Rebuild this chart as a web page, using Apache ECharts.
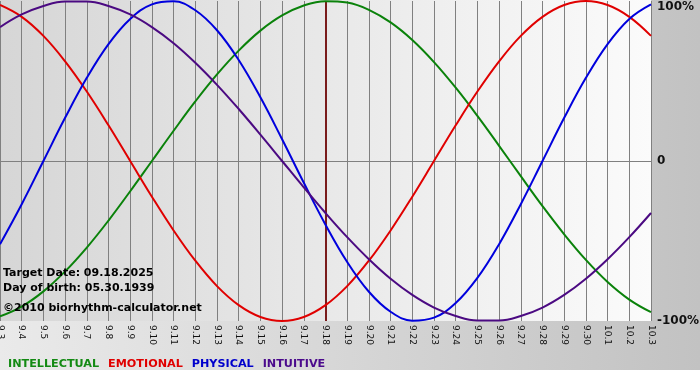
<!DOCTYPE html>
<html>
<head>
<meta charset="utf-8">
<script src="https://cdn.jsdelivr.net/npm/echarts@6/dist/echarts.min.js"></script>
<style>html,body{margin:0;padding:0;background:#fff}#c{width:700px;height:380px}</style>
</head>
<body>
<div id="c"></div>
<script>
const days = ['9.3','9.4','9.5','9.6','9.7','9.8','9.9','9.10','9.11','9.12','9.13','9.14','9.15','9.16','9.17','9.18','9.19','9.20','9.21','9.22','9.23','9.24','9.25','9.26','9.27','9.28','9.29','9.30','10.1','10.2','10.3'];
const intellectual = [-0.971,-0.910,-0.815,-0.690,-0.541,-0.372,-0.189,0,0.189,0.372,0.541,0.690,0.815,0.910,0.972,0.999,0.990,0.945,0.866,0.756,0.618,0.458,0.282,0.095,-0.095,-0.282,-0.458,-0.618,-0.756,-0.866,-0.945];
const emotional = [0.975,0.901,0.782,0.623,0.434,0.223,0,-0.223,-0.434,-0.623,-0.782,-0.901,-0.975,-1.000,-0.975,-0.901,-0.782,-0.623,-0.434,-0.223,0,0.223,0.434,0.623,0.782,0.901,0.975,1.000,0.975,0.901,0.782];
const physical = [-0.520,-0.270,0,0.270,0.520,0.731,0.888,0.979,0.998,0.942,0.817,0.631,0.398,0.136,-0.136,-0.398,-0.631,-0.817,-0.942,-0.998,-0.979,-0.888,-0.731,-0.520,-0.270,0,0.270,0.520,0.731,0.888,0.979];
const intuitive = [0.837,0.916,0.969,0.997,0.997,0.969,0.916,0.837,0.736,0.614,0.476,0.325,0.165,0,-0.165,-0.325,-0.476,-0.614,-0.736,-0.837,-0.916,-0.969,-0.997,-0.997,-0.969,-0.916,-0.837,-0.736,-0.614,-0.476,-0.325];
const seriesNames = ['INTELLECTUAL','EMOTIONAL','PHYSICAL','INTUITIVE'];
const yTickLabels = {'1':'100%','0':'0','-1':'-100%'};
const targetDay = '9.18';
const infoLines = ['Target Date: 09.18.2025','Day of birth: 05.30.1939','©2010 biorhythm-calculator.net'];

const colors = ['#0a820a','#e00000','#0000dd','#4b0a82'];
const legendColors = ['#138a13','#e00000','#0000cc','#4b0a8c'];
const font = 'DejaVu Sans, Verdana, sans-serif';
const chart = echarts.init(document.getElementById('c'), null, {renderer:'canvas'});
const values = [intellectual, emotional, physical, intuitive];

chart.setOption({
  animation:false,
  backgroundColor:'#ffffff',
  graphic:[
    {type:'rect', z:-100, silent:true, shape:{x:0,y:0,width:700,height:370},
     style:{fill:new echarts.graphic.LinearGradient(0,0,1,0,[{offset:0,color:'#eaeaea'},{offset:1,color:'#c2c2c2'}])}},
    {type:'rect', z:-99, silent:true, shape:{x:0,y:0,width:651,height:321},
     style:{fill:new echarts.graphic.LinearGradient(0,0,1,0,[{offset:0,color:'#d6d6d6'},{offset:1,color:'#fbfbfb'}])}},
    {type:'text', z:100, left:3, top:268, style:{text:infoLines[0], font:'bold 11px '+font, fill:'#000'}},
    {type:'text', z:100, left:3, top:283, style:{text:infoLines[1], font:'bold 11px '+font, fill:'#000'}},
    {type:'text', z:100, left:3, top:303, style:{text:infoLines[2], font:'bold 11px '+font, fill:'#000'}}
  ],
  grid:{left:0, right:49, top:1, bottom:59, containLabel:false, outerBoundsMode:'none'},
  legend:{
    left:-2, top:354, itemWidth:0, itemHeight:0, itemGap:4, selectedMode:false,
    textStyle:{fontFamily:font, fontWeight:'bold', fontSize:11.2},
    data: seriesNames.map((n,i)=>({name:n, icon:'rect', itemStyle:{opacity:0}, textStyle:{color:legendColors[i]}}))
  },
  xAxis:{
    type:'category', boundaryGap:false, data:days,
    axisLine:{lineStyle:{color:'#808080', width:1}},
    axisTick:{show:true, interval:0, length:3, lineStyle:{color:'#808080'}},
    splitLine:{show:true, interval:0, lineStyle:{color:'#808080', width:1}},
    axisLabel:{interval:0, rotate:-90, fontSize:9, fontFamily:font, color:'#111', margin:4}
  },
  yAxis:{
    type:'value', position:'right', min:-1, max:1, interval:1,
    axisLine:{show:false}, axisTick:{show:false},
    splitLine:{show:true, lineStyle:{color:['rgba(0,0,0,0)','#808080','rgba(0,0,0,0)'], width:1}},
    axisLabel:{
      margin:6, color:'#111', fontFamily:font, fontWeight:'bold', fontSize:12,
      formatter:v=> v===1 ? '{t|'+yTickLabels['1']+'}' : yTickLabels[String(v)],
      rich:{t:{padding:[12,0,0,0], fontFamily:font, fontWeight:'bold', fontSize:12, color:'#111'}}
    }
  },
  series: seriesNames.map((n,i)=>({
    name:n, type:'line', data:values[i], smooth:0.4, symbol:'none',
    lineStyle:{color:colors[i], width:2}, itemStyle:{color:colors[i]},
    z: 3,
    markLine: i===0 ? {silent:true, symbol:'none', label:{show:false},
      lineStyle:{color:'#7a1c1c', width:2, type:'solid'}, data:[{xAxis:targetDay}], z:1} : undefined
  }))
});
</script>
</body>
</html>
